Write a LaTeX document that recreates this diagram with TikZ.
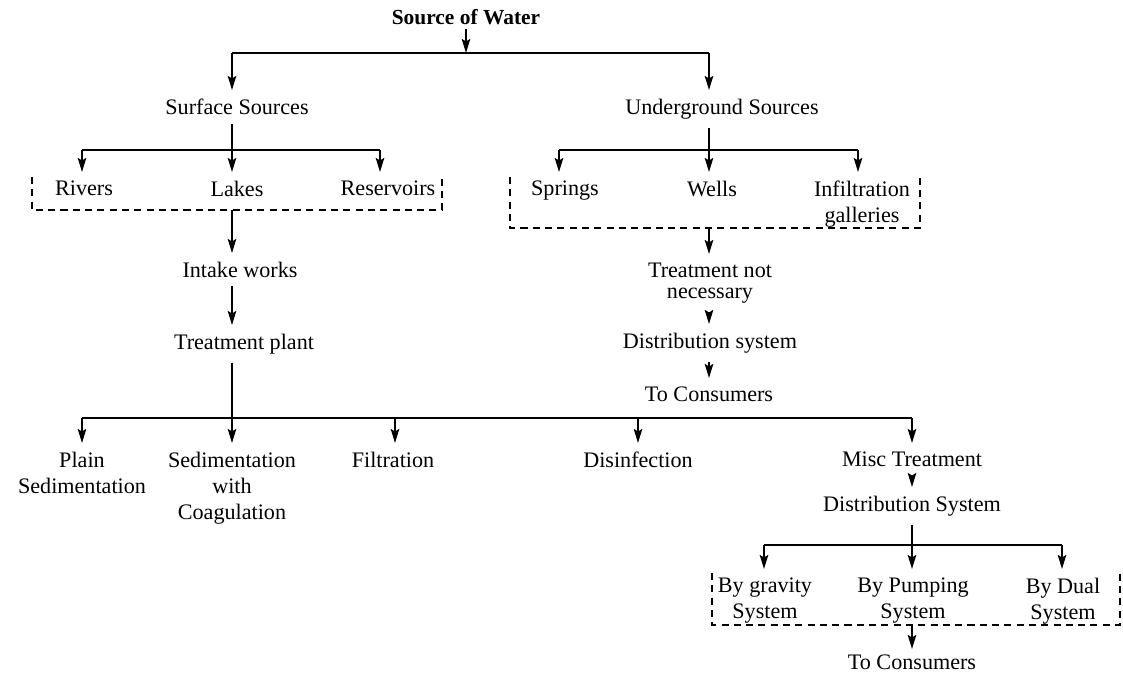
\documentclass[tikz,border=0pt]{standalone}
\usepackage{fontspec}
\setmainfont{Liberation Serif}
\usetikzlibrary{arrows.meta}

\begin{document}
\begin{tikzpicture}[x=0.02cm,y=-0.02cm,
    line width=1.1pt,
    font=\fontsize{12.6}{14.8}\selectfont,
    lbl/.style={inner xsep=3pt, inner ysep=4.5pt, align=center, anchor=north},
    arr/.style={-{Stealth[length=2.8mm,width=1.7mm,inset=0.5mm]}},
    dbox/.style={line width=0.9pt, dash pattern=on 4pt off 3pt}]
    \useasboundingbox (0,0) rectangle (1123,675);

    % top level
    \node[font=\fontsize{12.2}{14}\selectfont\bfseries, inner sep=2pt] (src) at (466,17) {Source of Water};
    \coordinate (top) at (466,53);
    \coordinate (topL) at (232,53);
    \coordinate (topR) at (709,53);
    \draw[arr] (src) -- (top);
    \draw (topL) -- (topR);

    \node[lbl] (surf) at (237,90) {Surface Sources};
    \node[lbl] (under) at (722,90) {Underground Sources};
    \draw[arr] (topL) -- (topL |- surf.north);
    \draw[arr] (topR) -- (topR |- under.north);

    % surface sources
    \coordinate (sbar) at (232,150);
    \coordinate (sbarL) at (82,150);
    \coordinate (sbarR) at (380,150);
    \draw (surf.south -| sbar) -- (sbar);
    \draw (sbarL) -- (sbarR);
    \node[lbl] (rivers) at (84,172) {Rivers};
    \node[lbl] (lakes) at (237,172) {Lakes};
    \node[lbl] (reserv) at (388,172) {Reservoirs};
    \draw[arr] (sbarL) -- (sbarL |- rivers.north);
    \draw[arr] (sbar) -- (sbar |- lakes.north);
    \draw[arr] (sbarR) -- (sbarR |- reserv.north);
    \coordinate (lboxTL) at (32,177);
    \coordinate (lboxBL) at (32,210);
    \coordinate (lboxBR) at (442,210);
    \coordinate (lboxTR) at (442,177);
    \coordinate (lboxOut) at (232,210);
    \draw[dbox] (lboxTL) -- (lboxBL) -- (lboxBR) -- (lboxTR);

    \node[lbl] (intake) at (240,253) {Intake works};
    \node[lbl] (plant) at (244,325) {Treatment plant};
    \draw[arr] (lboxOut) -- (lboxOut |- intake.north);
    \draw[arr] (intake.south -| lboxOut) -- (lboxOut |- plant.north);

    % underground sources
    \coordinate (ubar) at (709,150);
    \coordinate (ubarL) at (559,150);
    \coordinate (ubarR) at (858,150);
    \draw (under.south -| ubar) -- (ubar);
    \draw (ubarL) -- (ubarR);
    \node[lbl] (springs) at (565,172) {Springs};
    \node[lbl] (wells) at (712,172) {Wells};
    \node[lbl] (infil) at (862,172) {Infiltration\\galleries};
    \draw[arr] (ubarL) -- (ubarL |- springs.north);
    \draw[arr] (ubar) -- (ubar |- wells.north);
    \draw[arr] (ubarR) -- (ubarR |- infil.north);
    \coordinate (rboxTL) at (510,177);
    \coordinate (rboxBL) at (510,228);
    \coordinate (rboxBR) at (920,228);
    \coordinate (rboxTR) at (920,177);
    \coordinate (rboxOut) at (709,228);
    \draw[dbox] (rboxTL) -- (rboxBL) -- (rboxBR) -- (rboxTR);

    \node[lbl] (notreat) at (710,254) {Treatment not\\[-3pt]necessary};
    \node[lbl] (udist) at (710,324) {Distribution system};
    \node[lbl] (ucons) at (709,378) {To Consumers};
    \draw[arr] (rboxOut) -- (rboxOut |- notreat.north);
    \draw[arr] (notreat.south -| rboxOut) -- (rboxOut |- udist.north);
    \draw[arr] (udist.south -| rboxOut) -- (rboxOut |- ucons.north);

    % treatment
    \coordinate (tbar) at (232,418);
    \coordinate (tbarL) at (82,418);
    \coordinate (tbarR) at (912,418);
    \coordinate (tfilt) at (395,418);
    \coordinate (tdis) at (638,418);
    \draw (plant.south -| tbar) -- (tbar);
    \draw (tbarL) -- (tbarR);
    \node[lbl] (plain) at (82,443) {Plain\\Sedimentation};
    \node[lbl] (sedco) at (232,443) {Sedimentation\\with\\Coagulation};
    \node[lbl] (filt) at (393,443) {Filtration};
    \node[lbl] (disinf) at (638,443) {Disinfection};
    \node[lbl] (misc) at (912,443) {Misc Treatment};
    \draw[arr] (tbarL) -- (tbarL |- plain.north);
    \draw[arr] (tbar) -- (tbar |- sedco.north);
    \draw[arr] (tfilt) -- (tfilt |- filt.north);
    \draw[arr] (tdis) -- (tdis |- disinf.north);
    \draw[arr] (tbarR) -- (tbarR |- misc.north);

    % distribution
    \node[lbl] (dist) at (912,487) {Distribution System};
    \draw[arr] (misc) -- (dist);
    \coordinate (dbar) at (912,545);
    \coordinate (dbarL) at (764,545);
    \coordinate (dbarR) at (1062,545);
    \draw (dist) -- (dbar);
    \draw (dbarL) -- (dbarR);
    \node[lbl] (grav) at (765,569) {By gravity\\System};
    \node[lbl] (pump) at (913,569) {By Pumping\\System};
    \node[lbl] (dual) at (1063,569) {By Dual\\System};
    \draw[arr] (dbarL) -- (dbarL |- grav.north);
    \draw[arr] (dbar) -- (dbar |- pump.north);
    \draw[arr] (dbarR) -- (dbarR |- dual.north);
    \coordinate (bboxTL) at (712,573);
    \coordinate (bboxBL) at (712,625);
    \coordinate (bboxBR) at (1120,625);
    \coordinate (bboxTR) at (1120,573);
    \coordinate (bboxOut) at (912,625);
    \draw[dbox] (bboxTL) -- (bboxBL) -- (bboxBR) -- (bboxTR);

    \node[lbl, inner ysep=3pt] (dcons) at (912,649) {To Consumers};
    \draw[arr] (bboxOut) -- (dcons);
\end{tikzpicture}
\end{document}
